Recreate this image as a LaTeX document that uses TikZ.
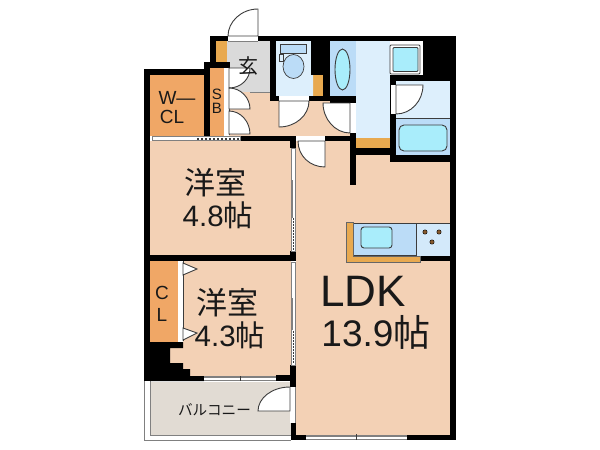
\documentclass[tikz,border=0pt]{standalone}
\usepackage{fontspec}
\setmainfont{Liberation Sans}
\newfontfamily\jpfont{Noto Sans CJK JP}
\definecolor{roomcol}{HTML}{F3D1B5}
\definecolor{closetcol}{HTML}{F0A766}
\definecolor{boardcol}{HTML}{E8A94F}
\definecolor{entrycol}{HTML}{DADADA}
\definecolor{palecol}{HTML}{DDEFFC}
\definecolor{bathcol}{HTML}{BBDCF7}
\definecolor{watercol}{HTML}{A9EDFB}
\definecolor{balconycol}{HTML}{E1DBD3}
\definecolor{linecol}{HTML}{3C3C3C}
\begin{document}
\begin{tikzpicture}[x=1pt, y=-1pt,
    wall/.style={fill=black},
    door/.style={draw=linecol, fill=white, line width=0.9pt},
    tray/.style={draw=linecol, fill=watercol, line width=0.9pt},
    sash/.style={fill=white, draw=gray, line width=0.7pt},
    label/.style={inner sep=0pt, text=black!90}]
    \useasboundingbox (0,0) rectangle (600,450);

    % Room floors
    \fill[roomcol] (150,141) rectangle (291,256);
    \fill[roomcol] (183,261) -- (291,261) -- (291,376) -- (190,376) -- (190,369) -- (183,369) -- (183,363) -- (170,363) -- (170,348) -- (183,348) -- cycle;
    \fill[roomcol] (296,141) -- (350,141) -- (350,155) -- (390,155) -- (390,162) -- (450,162) -- (450,435) -- (296,435) -- cycle;
    \fill[roomcol] (229,92) -- (350,92) -- (350,136) -- (229,136) -- cycle;
    \fill[closetcol] (150,75) rectangle (204,136);
    \fill[closetcol] (210,68) rectangle (224,136);
    \fill[closetcol] (150,261) rectangle (178,342);
    \fill[entrycol] (227,41) rectangle (270,92);
    \fill[boardcol] (216,41) rectangle (227,62);
    \fill[boardcol] (313,75) rectangle (323,96);
    \fill[boardcol] (356,138) rectangle (390,148);

    % Wet rooms
    \fill[palecol] (276,41) -- (311,41) -- (311,75) -- (313,75) -- (313,96) -- (276,96) -- cycle;
    \fill[bathcol] (330,41) rectangle (356,96);
    \fill[palecol] (356,41) rectangle (390,138);
    \fill[white] (390,41) rectangle (423,75);
    \fill[palecol] (396,81) rectangle (450,118);
    \fill[bathcol] (396,118) rectangle (450,155);
    \draw[linecol, line width=0.8pt] (396,118) -- (450,118);

    % Balcony
    \fill[balconycol] (150,382) rectangle (291,435);
    \draw[gray, line width=0.8pt] (144,381) -- (144,440) -- (291,440);
    \draw[gray, line width=0.8pt] (150,381) -- (150,435) -- (291,435);

    % Walls
    \fill[wall] (144,69) rectangle (210,75);
    \fill[wall] (144,69) rectangle (150,381);
    \fill[wall] (204,62) rectangle (210,136);
    \fill[wall] (204,62) rectangle (230,68);
    \fill[wall] (210,36) rectangle (216,62);
    \fill[wall] (210,36) rectangle (228,41);
    \fill[wall] (258,36) rectangle (456,41);
    \fill[wall] (270,41) rectangle (276,101);
    \fill[wall] (270,96) rectangle (279,101);
    \fill[wall] (309,96) rectangle (330,101);
    \fill[wall] (311,41) rectangle (330,75);
    \fill[wall] (323,75) rectangle (330,101);
    \fill[wall] (330,96) rectangle (356,103);
    \fill[wall] (350,133) rectangle (356,185);
    \fill[wall] (325,136) rectangle (356,141);
    \fill[wall] (350,148) rectangle (390,155);
    \fill[wall] (423,41) rectangle (456,81);
    \fill[wall] (390,75) rectangle (450,81);
    \fill[wall] (390,75) rectangle (396,162);
    \fill[wall] (390,155) rectangle (456,162);
    \fill[wall] (450,41) rectangle (456,440);
    \fill[wall] (240,136) rectangle (296,141);
    \fill[wall] (290,136) rectangle (296,148);
    \fill[wall] (150,255) rectangle (296,261);
    \fill[wall] (290,251) rectangle (296,261);
    \fill[wall] (150,342) -- (183,342) -- (183,348) -- (170,348) -- (170,363) -- (183,363) -- (183,369) -- (190,369) -- (190,376) -- (204,376) -- (204,381) -- (150,381) -- cycle;
    \fill[wall] (276,375) rectangle (296,381);
    \fill[wall] (290,365) rectangle (296,387);
    \fill[wall] (291,423) rectangle (296,440);
    \fill[wall] (291,435) rectangle (306,440);
    \fill[wall] (407,435) rectangle (456,440);

    % Windows and sashes
    \filldraw[sash] (152,136.5) rectangle (240,140.5);
    \fill[white] (197,137) rectangle (240,140);
    \draw[linecol, line width=1.6pt, dash pattern=on 2pt off 2pt] (197,139) -- (240,139);
    \filldraw[sash] (291,148) rectangle (295,251);
    \draw[gray, line width=1.5pt] (292,180) -- (292,218);
    \draw[linecol, line width=1pt, dash pattern=on 1.5pt off 1.5pt] (293,218) -- (293,250);
    \filldraw[sash] (291,262) rectangle (295,365);
    \draw[gray, line width=1.5pt] (292,298) -- (292,330);
    \draw[linecol, line width=1pt, dash pattern=on 1.5pt off 1.5pt] (293,331) -- (293,364);
    \fill[white] (204,376) rectangle (276,381);
    \draw[gray, line width=1.8pt] (204,377) -- (276,377);
    \draw[gray, line width=0.7pt] (204,380.6) -- (276,380.6);
    \draw[linecol] (240,376) -- (240,381);
    \fill[white] (306,435) rectangle (407,440);
    \draw[gray, line width=1.8pt] (306,436) -- (407,436);
    \draw[gray, line width=0.7pt] (306,439.6) -- (407,439.6);
    \draw[linecol] (356,434) -- (356,440);
    \fill[white] (178,261) rectangle (183,341);
    \draw[linecol, line width=0.7pt] (183,261) -- (183,341);

    % Entrance door
    \fill[white] (228,36) rectangle (258,41);
    \draw[door] (258,36) -- (258,9) .. controls (241,9) and (228,22) .. (228,36) -- cycle;
    \draw[gray] (228,41) -- (258,41);

    % Doors of the storage and the hall
    \fill[white] (224,68) rectangle (229,135);
    \draw[linecol, line width=0.7pt] (229,68) -- (229,135);
    \draw[door] (229,68) -- (250,68) .. controls (250,79) and (241,88) .. (229,88) -- cycle;
    \draw[door] (229,109) -- (250,109) .. controls (250,98) and (241,88) .. (229,88) -- cycle;
    \draw[door] (229,134) -- (250,134) .. controls (250,122) and (241,111) .. (229,111) -- cycle;
    \draw[gray, line width=0.8pt] (250,92) -- (270,92);

    % Toilet
    \fill[white] (279,96) rectangle (309,101);
    \draw[door] (279,101) -- (309,101) .. controls (309,115) and (296,127) .. (279,127) -- cycle;
    \draw[draw=linecol, fill=bathcol, line width=0.7pt] (280,44) rectangle (306,53);
    \draw[draw=linecol, fill=bathcol, line width=0.7pt] (293.5,66.5) ellipse [x radius=10.5, y radius=12];
    \draw[draw=linecol, fill=palecol, line width=0.7pt] (279,54) rectangle (283,61);

    % Wash basin, washer pan and doors
    \draw[tray] (342.5,69.5) ellipse [x radius=7.5, y radius=20.5];
    \draw[linecol, fill=white, line width=0.9pt, rounded corners=1pt] (390,45) rectangle (420,74);
    \draw[tray, rounded corners=1pt] (393,47.5) rectangle (418,71.5);
    \fill[white] (351,103) rectangle (355,133);
    \draw[door] (350,103) -- (323,103) .. controls (323,119) and (335,133) .. (350,133) -- cycle;
    \fill[white] (391,85) rectangle (396,114);
    \draw[door] (396,85) -- (423,85) .. controls (423,101) and (411,114) .. (396,114) -- cycle;
    \fill[white] (300,137) rectangle (325,141);
    \draw[door] (325,141) -- (325,167) .. controls (310,167) and (298,156) .. (298,141) -- cycle;
    \draw[tray, rounded corners=5pt] (399,125) rectangle (447,151);

    % Closet doors
    \draw[door] (183,263) -- (197,269) -- (183,275) -- cycle;
    \draw[door] (183,328) -- (197,333) -- (183,340) -- cycle;

    % Balcony door
    \fill[white] (290,387) rectangle (296,423);
    \draw[door] (290,411) -- (258,411) .. controls (258,398) and (272,387) .. (290,387) -- cycle;
    \draw[gray] (295.5,387) -- (295.5,423);

    % Kitchen
    \fill[wall] (420,256) rectangle (450,261);
    \fill[bathcol] (353,223) rectangle (417,256);
    \fill[palecol!70!bathcol] (417,223) rectangle (450,256);
    \draw[linecol, line width=0.7pt] (353,223) -- (450,223);
    \draw[linecol, line width=0.7pt] (353,255) -- (417,255);
    \draw[linecol, line width=0.7pt] (416,223) -- (416,255);
    \draw[fill=boardcol, draw=gray!80!black, line width=0.5pt] (346,222) -- (353,222) -- (353,256) -- (420,256) -- (420,262) -- (346,262) -- cycle;
    \draw[tray, rounded corners=3pt] (361,227) rectangle (392,248);
    \foreach \px/\py in {425/232, 439/232, 432/242}
        \draw[fill=brown!70!black, draw=black] (\px,\py) circle (2.2);

    % Labels
    \node[label, font=\jpfont\fontsize{31}{31}\selectfont] (western1) at (215,183) {洋室};
    \node[label, font=\fontsize{29.5}{30}\selectfont] (size1) at (218,215) {4.8{\jpfont 帖}};
    \node[label, font=\jpfont\fontsize{31}{31}\selectfont] (western2) at (227,303) {洋室};
    \node[label, font=\fontsize{29.5}{30}\selectfont] (size2) at (230,335) {4.3{\jpfont 帖}};
    \node[label, font=\fontsize{44}{44}\selectfont] (ldk) at (363,291) {LDK};
    \node[label, font=\fontsize{37}{37}\selectfont] (size3) at (376,332) {13.9{\jpfont 帖}};
    \node[label, font=\fontsize{19}{19}\selectfont] (wcl1) at (177,98) {W—};
    \node[label, font=\fontsize{19}{19}\selectfont] (wcl2) at (172,117) {CL};
    \node[label, font=\fontsize{15}{15}\selectfont] (sb1) at (217,94) {S};
    \node[label, font=\fontsize{15}{15}\selectfont] (sb2) at (217,108) {B};
    \node[label, font=\fontsize{19}{19}\selectfont] (cl1) at (162,293) {C};
    \node[label, font=\fontsize{19}{19}\selectfont] (cl2) at (162,315) {L};
    \node[label, font=\jpfont\fontsize{20}{20}\selectfont] (entry) at (248,66) {玄};
    \node[label, font=\jpfont\fontsize{14.6}{15}\selectfont] (balcony) at (214.5,410) {バルコニー};
\end{tikzpicture}
\end{document}
